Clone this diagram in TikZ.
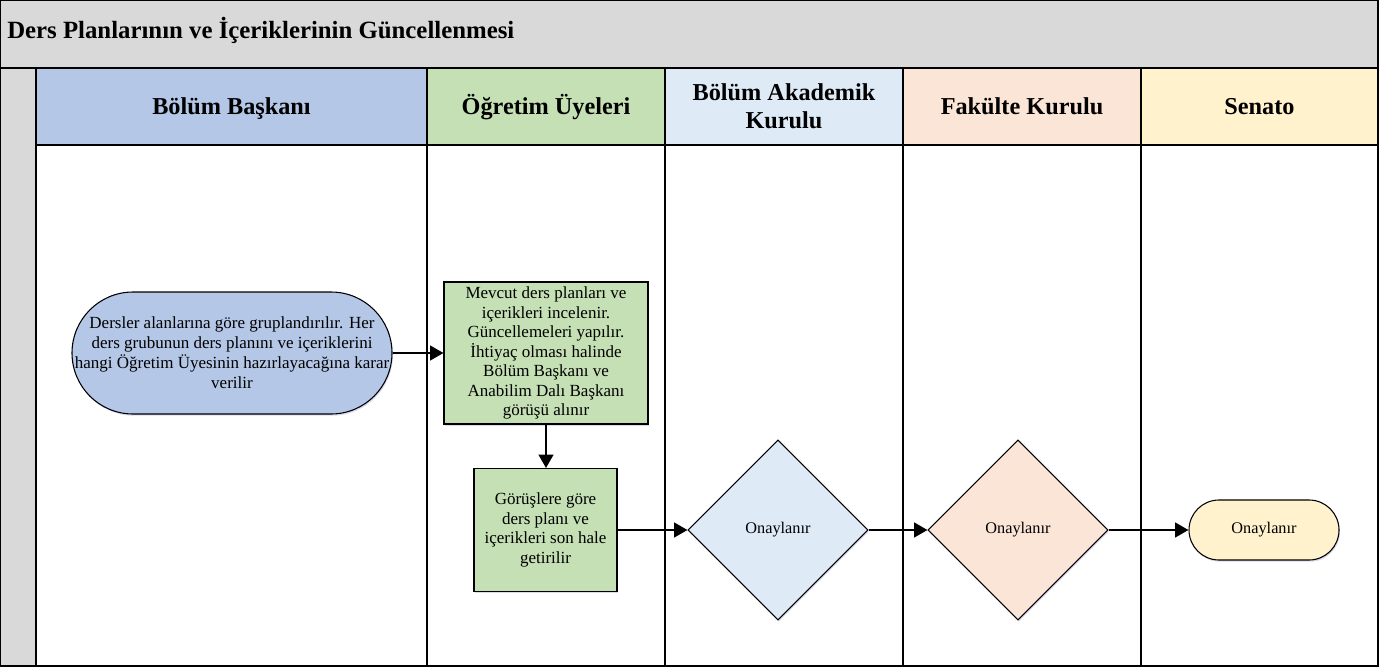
\documentclass[tikz,border=0pt]{standalone}
\usepackage{fontspec}
\setmainfont{Liberation Serif}
\usetikzlibrary{shapes.geometric, arrows.meta, shadows}

\definecolor{titlegray}{HTML}{D9D9D9}
\definecolor{chairblue}{HTML}{B4C7E7}
\definecolor{facgreen}{HTML}{C5E0B4}
\definecolor{boardblue}{HTML}{DEEBF7}
\definecolor{facpeach}{HTML}{FBE5D6}
\definecolor{senyellow}{HTML}{FFF2CC}

\begin{document}
\begin{tikzpicture}[x=0.75pt, y=-0.75pt,
  lane/.style={draw=black, line width=1.4pt},
  hdrbox/.style={lane, inner sep=0pt, minimum height=57.75pt},
  hdrtext/.style={inner sep=0pt, anchor=base, font=\fontsize{18.2}{20.6}\selectfont\bfseries},
  body/.style={font=\fontsize{12.75}{14.6}\selectfont, align=center, inner sep=0pt},
  shadowed/.style={drop shadow={shadow xshift=0.7pt, shadow yshift=-1.3pt, fill=blue!60!black, opacity=0.15}},
  task/.style={body, draw=black, line width=0.8pt, shadowed},
  decision/.style={task, diamond, aspect=1, minimum width=135pt, minimum height=135pt, font=\fontsize{12.2}{14}\selectfont},
  flow/.style={line width=1.7pt, -{Triangle[length=10pt,width=11pt]}},
]
% page size
\useasboundingbox (0,0) rectangle (1398,671);

% title bar and left strip
\fill[titlegray] (0,0) rectangle (1378,68);
\fill[titlegray] (0,68) rectangle (36,666);
\node[anchor=base west, inner sep=0pt, font=\fontsize{18.6}{22}\selectfont\bfseries] (title) at (7,38.3)
  {Ders Planlarının ve İçeriklerinin Güncellenmesi};

% lane headers
\node[hdrbox, fill=chairblue, minimum width=293.25pt] (h1) at (231.5,106.5) {};
\node[hdrbox, fill=facgreen,  minimum width=178.5pt]  (h2) at (546,106.5) {};
\node[hdrbox, fill=boardblue, minimum width=178.5pt]  (h3) at (784,106.5) {};
\node[hdrbox, fill=facpeach,  minimum width=178.5pt]  (h4) at (1022,106.5) {};
\node[hdrbox, fill=senyellow, minimum width=177.75pt] (h5) at (1259.5,106.5) {};

\node[hdrtext] (t1) at (231.5,114.3) {Bölüm Başkanı};
\node[hdrtext] (t2) at (546,114.3) {Öğretim Üyeleri};
\node[hdrtext] (t3a) at (784,100.7) {Bölüm Akademik};
\node[hdrtext] (t3b) at (784,128.2) {Kurulu};
\node[hdrtext] (t4) at (1022,114.3) {Fakülte Kurulu};
\node[hdrtext] (t5) at (1259.5,114.3) {Senato};

% lane bodies
\draw[lane] (36,145) rectangle (427,666);
\draw[lane] (427,145) rectangle (665,666);
\draw[lane] (665,145) rectangle (903,666);
\draw[lane] (903,145) rectangle (1141,666);
\draw[lane] (1141,145) rectangle (1378,666);
\draw[lane] (36,68) -- (36,666);

% outer frame
\draw[line width=1.4pt] (0,68) -- (1378,68);
\draw[line width=2pt] (0,0) rectangle (1378,666);

% flow shapes
\node[task, fill=chairblue, minimum width=240pt, minimum height=91.5pt, rounded corners=45.75pt,
      font=\fontsize{12.75}{15}\selectfont] (s1) at (232,353)
  {Dersler alanlarına göre gruplandırılır. Her\\ders grubunun ders planını ve içeriklerini\\hangi Öğretim Üyesinin hazırlayacağına karar\\verilir};
\node[task, fill=facgreen, minimum width=153pt, minimum height=106.5pt] (b1) at (546,353)
  {Mevcut ders planları ve\\içerikleri incelenir.\\Güncellemeleri yapılır.\\İhtiyaç olması halinde\\Bölüm Başkanı ve\\Anabilim Dalı Başkanı\\görüşü alınır};
\node[task, fill=facgreen, minimum width=107.25pt, minimum height=92.25pt] (b2) at (545.5,530)
  {Görüşlere göre\\ders planı ve\\içerikleri son hale\\getirilir};
\node[decision, fill=boardblue] (d1) at (778,530) {Onaylanır};
\node[decision, fill=facpeach] (d2) at (1018,530) {Onaylanır};
\node[task, fill=senyellow, minimum width=112.5pt, minimum height=45pt, rounded corners=22.5pt,
      font=\fontsize{12.2}{14}\selectfont] (s2) at (1264,530) {Onaylanır};

% connectors
\draw[flow] (s1.east) -- (b1.west);
\draw[flow] (b1.south) -- (b1.south |- b2.north);
\draw[flow] (b2.east) -- (d1.west);
\draw[flow] (d1.east) -- (d2.west);
\draw[flow] (d2.east) -- (s2.west);
\end{tikzpicture}
\end{document}
